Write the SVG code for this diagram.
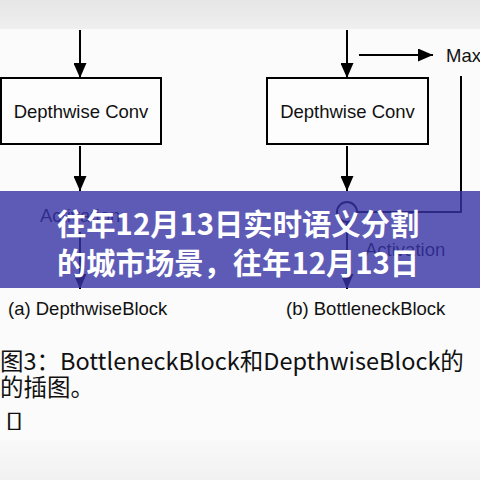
<svg xmlns="http://www.w3.org/2000/svg" width="480" height="480" viewBox="0 0 480 480">
<defs>
<marker id="ah" viewBox="0 0 15 13" refX="15" refY="6.5" markerWidth="15" markerHeight="13" markerUnits="userSpaceOnUse" orient="auto">
<path d="M0,0 L15,6.5 L0,13 z" fill="#000"/>
</marker>
<linearGradient id="top" x1="0" y1="0" x2="0" y2="1">
<stop offset="0" stop-color="#e6e6e6"/>
<stop offset="1" stop-color="#efefef"/>
</linearGradient>
<linearGradient id="bot" x1="0" y1="0" x2="0" y2="1">
<stop offset="0" stop-color="#f9f9f9"/>
<stop offset="1" stop-color="#f1f1f1"/>
</linearGradient>
</defs>
<style>
.box{fill:#fdfdfd;stroke:#000;stroke-width:2}
.lbl{font-family:"Liberation Sans",Arial,sans-serif;font-size:18.5px;fill:#111}
.ln{stroke:#000;stroke-width:2;fill:none}
.ar{stroke:#000;stroke-width:2;fill:none;marker-end:url(#ah)}
.title{font-family:"Noto Sans CJK SC",sans-serif;font-weight:bold;font-size:29.3px;fill:#fff}
.cap{font-family:"Noto Sans CJK SC",sans-serif;font-size:23.5px;fill:#111}
</style>
<rect x="0" y="0" width="480" height="480" fill="#fbfbfb"/>
<rect x="0" y="0" width="480" height="29" fill="url(#top)"/>
<rect x="0" y="440" width="480" height="40" fill="url(#bot)"/>
<g id="connectors">
<path class="ar" d="M80,30 V78"/>
<path class="ar" d="M80,146 V191"/>
<path class="ar" d="M347,30 V78"/>
<path class="ar" d="M347,146 V191"/>
<path class="ar" d="M359,55 H433"/>
<path class="ln" d="M461,76 V212 H357"/>
<path class="ar" d="M80,232 V289"/>
<path class="ar" d="M347,222 V289"/>
</g>
<g id="left-dwconv">
<rect class="box" x="1" y="78" width="160" height="66"/>
<text class="lbl" x="81" y="118" text-anchor="middle">Depthwise Conv</text>
</g>
<g id="right-dwconv">
<rect class="box" x="267" y="78" width="161" height="66"/>
<text class="lbl" x="347.5" y="118" text-anchor="middle">Depthwise Conv</text>
</g>
<g id="max">
<text class="lbl" x="446" y="62">Max</text>
</g>
<g id="add">
<circle cx="347" cy="212" r="10" class="ln"/>
</g>
<g id="left-act">
<text class="lbl" x="40" y="222">Activation</text>
</g>
<g id="right-act">
<text class="lbl" x="365" y="256">Activation</text>
</g>
<rect x="0" y="191" width="480" height="97" fill="#3733a6" fill-opacity="0.8"/>
<g id="title">
<text class="title" x="57" y="235">往年12月13日实时语义分割</text>
<text class="title" x="57" y="274">的城市场景，往年12月13日</text>
</g>
<g id="captions">
<text class="lbl" x="8" y="315">(a) DepthwiseBlock</text>
<text class="lbl" x="286" y="315">(b) BottleneckBlock</text>
<text class="cap" x="0" y="370">图3：BottleneckBlock和DepthwiseBlock的</text>
<text class="cap" x="0" y="396">的插图。</text>
<text x="0" y="0" font-family="DejaVu Sans" font-size="21" fill="#111" transform="translate(5,427) scale(1.6,1.05)">▯</text>
</g>
</svg>
